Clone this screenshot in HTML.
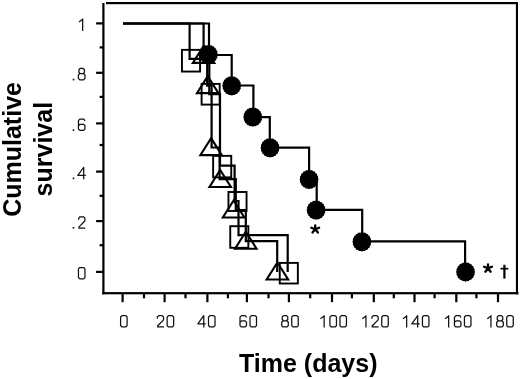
<!DOCTYPE html><html><head><meta charset="utf-8"><style>html,body{margin:0;padding:0;background:#fff;}svg{display:block;will-change:transform;}text{font-family:"Liberation Sans",sans-serif;}</style></head><body>
<svg width="520" height="379" viewBox="0 0 520 379">
<rect width="520" height="379" fill="#fff"/>
<g fill="#000">
<rect x="102.3" y="3" width="2.2" height="291.3"/>
<rect x="106" y="2" width="412" height="2.2"/>
<rect x="515.9" y="2" width="2.1" height="292.3"/>
<rect x="102.3" y="292.1" width="416.2" height="2.2"/>
<rect x="96.1" y="22.30" width="7" height="2.2"/>
<rect x="96.1" y="71.70" width="7" height="2.2"/>
<rect x="96.1" y="122.30" width="7" height="2.2"/>
<rect x="96.1" y="170.50" width="7" height="2.2"/>
<rect x="96.1" y="220.00" width="7" height="2.2"/>
<rect x="96.1" y="270.80" width="7" height="2.2"/>
<rect x="99.6" y="46.30" width="3.5" height="2.2"/>
<rect x="99.6" y="95.80" width="3.5" height="2.2"/>
<rect x="99.6" y="143.90" width="3.5" height="2.2"/>
<rect x="99.6" y="194.70" width="3.5" height="2.2"/>
<rect x="99.6" y="244.10" width="3.5" height="2.2"/>
<rect x="121.50" y="294" width="2.2" height="8.2"/>
<rect x="163.50" y="294" width="2.2" height="8.2"/>
<rect x="206.30" y="294" width="2.2" height="8.2"/>
<rect x="245.80" y="294" width="2.2" height="8.2"/>
<rect x="287.80" y="294" width="2.2" height="8.2"/>
<rect x="330.90" y="294" width="2.2" height="8.2"/>
<rect x="372.70" y="294" width="2.2" height="8.2"/>
<rect x="413.40" y="294" width="2.2" height="8.2"/>
<rect x="455.20" y="294" width="2.2" height="8.2"/>
<rect x="496.90" y="294" width="2.2" height="8.2"/>
<rect x="142.90" y="294" width="2.2" height="4.3"/>
<rect x="184.40" y="294" width="2.2" height="4.3"/>
<rect x="226.80" y="294" width="2.2" height="4.3"/>
<rect x="267.40" y="294" width="2.2" height="4.3"/>
<rect x="309.10" y="294" width="2.2" height="4.3"/>
<rect x="350.80" y="294" width="2.2" height="4.3"/>
<rect x="392.70" y="294" width="2.2" height="4.3"/>
<rect x="433.50" y="294" width="2.2" height="4.3"/>
<rect x="475.30" y="294" width="2.2" height="4.3"/>
</g>
<g fill="none" stroke="#111" stroke-width="1.25" stroke-linejoin="round">
<path transform="translate(123.85 315.00)" d="M-1.9 0.65H1.9L3.25 2V10.6L1.9 11.95H-1.9L-3.25 10.6V2Z"/>
<path transform="translate(160.40 315.00)" d="M-3.05 3.7V2.0L-1.7 0.65H1.8L3.15 2.0V4.9L-3.15 11.3M-3.4 11.95H3.6"/><path transform="translate(170.40 315.00)" d="M-1.9 0.65H1.9L3.25 2V10.6L1.9 11.95H-1.9L-3.25 10.6V2Z"/>
<path transform="translate(201.75 315.00)" d="M2.0 12.6V0.65L-3.9 8.8H4.0"/><path transform="translate(211.75 315.00)" d="M-1.9 0.65H1.9L3.25 2V10.6L1.9 11.95H-1.9L-3.25 10.6V2Z"/>
<path transform="translate(243.25 315.00)" d="M3.2 2.5L2.5 1.0L1.7 0.65H-1.7L-3.25 2.2V10.6L-1.9 11.95H1.9L3.25 10.6V7.2L1.9 5.85H-1.6L-3.25 7.3"/><path transform="translate(253.25 315.00)" d="M-1.9 0.65H1.9L3.25 2V10.6L1.9 11.95H-1.9L-3.25 10.6V2Z"/>
<path transform="translate(285.00 315.00)" d="M-1.5 0.65H1.5L2.75 1.9V4.5L1.5 5.8H-1.5L-2.75 4.5V1.9ZM-1.9 5.8H1.9L3.3 7.2V10.6L1.9 11.95H-1.9L-3.3 10.6V7.2Z"/><path transform="translate(295.00 315.00)" d="M-1.9 0.65H1.9L3.25 2V10.6L1.9 11.95H-1.9L-3.25 10.6V2Z"/>
<path transform="translate(323.20 315.00)" d="M0.95 12.6V0.2M1.0 0.9L-2.7 3.7"/><path transform="translate(333.20 315.00)" d="M-1.9 0.65H1.9L3.25 2V10.6L1.9 11.95H-1.9L-3.25 10.6V2Z"/><path transform="translate(343.20 315.00)" d="M-1.9 0.65H1.9L3.25 2V10.6L1.9 11.95H-1.9L-3.25 10.6V2Z"/>
<path transform="translate(365.00 315.00)" d="M0.95 12.6V0.2M1.0 0.9L-2.7 3.7"/><path transform="translate(375.00 315.00)" d="M-3.05 3.7V2.0L-1.7 0.65H1.8L3.15 2.0V4.9L-3.15 11.3M-3.4 11.95H3.6"/><path transform="translate(385.00 315.00)" d="M-1.9 0.65H1.9L3.25 2V10.6L1.9 11.95H-1.9L-3.25 10.6V2Z"/>
<path transform="translate(405.70 315.00)" d="M0.95 12.6V0.2M1.0 0.9L-2.7 3.7"/><path transform="translate(415.70 315.00)" d="M2.0 12.6V0.65L-3.9 8.8H4.0"/><path transform="translate(425.70 315.00)" d="M-1.9 0.65H1.9L3.25 2V10.6L1.9 11.95H-1.9L-3.25 10.6V2Z"/>
<path transform="translate(447.70 315.00)" d="M0.95 12.6V0.2M1.0 0.9L-2.7 3.7"/><path transform="translate(457.70 315.00)" d="M3.2 2.5L2.5 1.0L1.7 0.65H-1.7L-3.25 2.2V10.6L-1.9 11.95H1.9L3.25 10.6V7.2L1.9 5.85H-1.6L-3.25 7.3"/><path transform="translate(467.70 315.00)" d="M-1.9 0.65H1.9L3.25 2V10.6L1.9 11.95H-1.9L-3.25 10.6V2Z"/>
<path transform="translate(490.00 315.00)" d="M0.95 12.6V0.2M1.0 0.9L-2.7 3.7"/><path transform="translate(500.00 315.00)" d="M-1.5 0.65H1.5L2.75 1.9V4.5L1.5 5.8H-1.5L-2.75 4.5V1.9ZM-1.9 5.8H1.9L3.3 7.2V10.6L1.9 11.95H-1.9L-3.3 10.6V7.2Z"/><path transform="translate(510.00 315.00)" d="M-1.9 0.65H1.9L3.25 2V10.6L1.9 11.95H-1.9L-3.25 10.6V2Z"/>
<path transform="translate(81.70 18.40)" d="M0.95 12.6V0.2M1.0 0.9L-2.7 3.7"/>
<rect x="72.70" y="78.70" width="1.6" height="1.7" fill="#111" stroke="none"/><path transform="translate(81.70 67.80)" d="M-1.5 0.65H1.5L2.75 1.9V4.5L1.5 5.8H-1.5L-2.75 4.5V1.9ZM-1.9 5.8H1.9L3.3 7.2V10.6L1.9 11.95H-1.9L-3.3 10.6V7.2Z"/>
<rect x="72.70" y="129.30" width="1.6" height="1.7" fill="#111" stroke="none"/><path transform="translate(81.70 118.40)" d="M3.2 2.5L2.5 1.0L1.7 0.65H-1.7L-3.25 2.2V10.6L-1.9 11.95H1.9L3.25 10.6V7.2L1.9 5.85H-1.6L-3.25 7.3"/>
<rect x="72.70" y="177.50" width="1.6" height="1.7" fill="#111" stroke="none"/><path transform="translate(81.70 166.60)" d="M2.0 12.6V0.65L-3.9 8.8H4.0"/>
<rect x="72.70" y="227.00" width="1.6" height="1.7" fill="#111" stroke="none"/><path transform="translate(81.70 216.10)" d="M-3.05 3.7V2.0L-1.7 0.65H1.8L3.15 2.0V4.9L-3.15 11.3M-3.4 11.95H3.6"/>
<path transform="translate(81.70 266.90)" d="M-1.9 0.65H1.9L3.25 2V10.6L1.9 11.95H-1.9L-3.25 10.6V2Z"/>
</g>
<text x="239" y="372.2" font-size="25" font-weight="bold">Time (days)</text>
<text transform="translate(21.1,216.8) rotate(-90)" font-size="25" font-weight="bold">Cumulative</text>
<text transform="translate(51.5,196.4) rotate(-90)" font-size="25" font-weight="bold">survival</text>
<path d="M123 23.5 H189.6 V58.9 H209.3 V94.2 H220 V165.6 H234.6 V201 H238.5 V235.2 H287.7 V272" fill="none" stroke="#000" stroke-width="2.2" stroke-linejoin="miter"/>
<path d="M123 23.5 H203.6 V54.6 H207.2 V85.6 H211.6 V147.5 H219.6 V179.2 H235.8 V210 H245.8 V241.2 H277.2 V272" fill="none" stroke="#000" stroke-width="2.2" stroke-linejoin="miter"/>
<path d="M123 23.5 H209 V55 H231.7 V85.5 H253.4 V117.2 H269.8 V147.6 H309.1 V179 H316.7 V209.9 H362.2 V241.3 H465.1 V272" fill="none" stroke="#000" stroke-width="2.2" stroke-linejoin="miter"/>
<rect x="181.95" y="49.85" width="18.10" height="21.70" fill="none" stroke="#000" stroke-width="1.9"/>
<rect x="201.60" y="83.90" width="18.10" height="20.70" fill="none" stroke="#000" stroke-width="1.9"/>
<rect x="213.15" y="155.85" width="18.10" height="21.50" fill="none" stroke="#000" stroke-width="1.9"/>
<rect x="228.45" y="192.00" width="18.10" height="19.00" fill="none" stroke="#000" stroke-width="1.9"/>
<rect x="230.25" y="226.20" width="18.10" height="21.60" fill="none" stroke="#000" stroke-width="1.9"/>
<rect x="279.75" y="262.90" width="18.10" height="20.60" fill="none" stroke="#000" stroke-width="1.9"/>
<path d="M203.60 45.90 L214.35 62.90 L192.85 62.90 Z" fill="none" stroke="#000" stroke-width="2.1" stroke-linejoin="miter"/>
<path d="M207.70 76.10 L218.45 93.10 L196.95 93.10 Z" fill="none" stroke="#000" stroke-width="2.1" stroke-linejoin="miter"/>
<path d="M211.10 138.10 L221.85 155.10 L200.35 155.10 Z" fill="none" stroke="#000" stroke-width="2.1" stroke-linejoin="miter"/>
<path d="M220.20 170.00 L230.95 187.00 L209.45 187.00 Z" fill="none" stroke="#000" stroke-width="2.1" stroke-linejoin="miter"/>
<path d="M233.60 200.50 L244.35 217.50 L222.85 217.50 Z" fill="none" stroke="#000" stroke-width="2.1" stroke-linejoin="miter"/>
<path d="M245.80 231.70 L256.55 248.70 L235.05 248.70 Z" fill="none" stroke="#000" stroke-width="2.1" stroke-linejoin="miter"/>
<path d="M277.40 262.50 L288.15 279.50 L266.65 279.50 Z" fill="none" stroke="#000" stroke-width="2.1" stroke-linejoin="miter"/>
<polygon points="217.95,54.50 217.31,55.94 217.48,57.51 216.44,58.68 216.13,60.23 214.78,61.02 214.01,62.39 212.50,62.71 211.35,63.77 209.81,63.60 208.40,64.25 206.99,63.60 205.45,63.77 204.30,62.71 202.79,62.39 202.02,61.02 200.67,60.23 200.36,58.68 199.32,57.51 199.49,55.94 198.85,54.50 199.49,53.06 199.32,51.49 200.36,50.32 200.67,48.77 202.02,47.98 202.79,46.61 204.30,46.29 205.45,45.23 206.99,45.40 208.40,44.75 209.81,45.40 211.35,45.23 212.50,46.29 214.01,46.61 214.78,47.98 216.13,48.77 216.44,50.32 217.48,51.49 217.31,53.06" fill="#000"/>
<polygon points="241.25,85.80 240.61,87.24 240.78,88.81 239.74,89.98 239.43,91.53 238.08,92.32 237.31,93.69 235.80,94.01 234.65,95.07 233.11,94.90 231.70,95.55 230.29,94.90 228.75,95.07 227.60,94.01 226.09,93.69 225.32,92.32 223.97,91.53 223.66,89.98 222.62,88.81 222.79,87.24 222.15,85.80 222.79,84.36 222.62,82.79 223.66,81.62 223.97,80.07 225.32,79.28 226.09,77.91 227.60,77.59 228.75,76.53 230.29,76.70 231.70,76.05 233.11,76.70 234.65,76.53 235.80,77.59 237.31,77.91 238.08,79.28 239.43,80.07 239.74,81.62 240.78,82.79 240.61,84.36" fill="#000"/>
<polygon points="262.35,117.00 261.71,118.44 261.88,120.01 260.84,121.18 260.53,122.73 259.18,123.52 258.41,124.89 256.90,125.21 255.75,126.27 254.21,126.10 252.80,126.75 251.39,126.10 249.85,126.27 248.70,125.21 247.19,124.89 246.42,123.52 245.07,122.73 244.76,121.18 243.72,120.01 243.89,118.44 243.25,117.00 243.89,115.56 243.72,113.99 244.76,112.82 245.07,111.27 246.42,110.48 247.19,109.11 248.70,108.79 249.85,107.73 251.39,107.90 252.80,107.25 254.21,107.90 255.75,107.73 256.90,108.79 258.41,109.11 259.18,110.48 260.53,111.27 260.84,112.82 261.88,113.99 261.71,115.56" fill="#000"/>
<polygon points="279.60,147.80 278.96,149.24 279.13,150.81 278.09,151.98 277.78,153.53 276.43,154.32 275.66,155.69 274.15,156.01 273.00,157.07 271.46,156.90 270.05,157.55 268.64,156.90 267.10,157.07 265.95,156.01 264.44,155.69 263.67,154.32 262.32,153.53 262.01,151.98 260.97,150.81 261.14,149.24 260.50,147.80 261.14,146.36 260.97,144.79 262.01,143.62 262.32,142.07 263.67,141.28 264.44,139.91 265.95,139.59 267.10,138.53 268.64,138.70 270.05,138.05 271.46,138.70 273.00,138.53 274.15,139.59 275.66,139.91 276.43,141.28 277.78,142.07 278.09,143.62 279.13,144.79 278.96,146.36" fill="#000"/>
<polygon points="318.65,179.40 318.01,180.84 318.18,182.41 317.14,183.58 316.83,185.13 315.48,185.92 314.71,187.29 313.20,187.61 312.05,188.67 310.51,188.50 309.10,189.15 307.69,188.50 306.15,188.67 305.00,187.61 303.49,187.29 302.72,185.92 301.37,185.13 301.06,183.58 300.02,182.41 300.19,180.84 299.55,179.40 300.19,177.96 300.02,176.39 301.06,175.22 301.37,173.67 302.72,172.88 303.49,171.51 305.00,171.19 306.15,170.13 307.69,170.30 309.10,169.65 310.51,170.30 312.05,170.13 313.20,171.19 314.71,171.51 315.48,172.88 316.83,173.67 317.14,175.22 318.18,176.39 318.01,177.96" fill="#000"/>
<polygon points="325.65,210.10 325.01,211.54 325.18,213.11 324.14,214.28 323.83,215.83 322.48,216.62 321.71,217.99 320.20,218.31 319.05,219.37 317.51,219.20 316.10,219.85 314.69,219.20 313.15,219.37 312.00,218.31 310.49,217.99 309.72,216.62 308.37,215.83 308.06,214.28 307.02,213.11 307.19,211.54 306.55,210.10 307.19,208.66 307.02,207.09 308.06,205.92 308.37,204.37 309.72,203.58 310.49,202.21 312.00,201.89 313.15,200.83 314.69,201.00 316.10,200.35 317.51,201.00 319.05,200.83 320.20,201.89 321.71,202.21 322.48,203.58 323.83,204.37 324.14,205.92 325.18,207.09 325.01,208.66" fill="#000"/>
<polygon points="371.45,241.80 370.81,243.24 370.98,244.81 369.94,245.98 369.63,247.53 368.28,248.32 367.51,249.69 366.00,250.01 364.85,251.07 363.31,250.90 361.90,251.55 360.49,250.90 358.95,251.07 357.80,250.01 356.29,249.69 355.52,248.32 354.17,247.53 353.86,245.98 352.82,244.81 352.99,243.24 352.35,241.80 352.99,240.36 352.82,238.79 353.86,237.62 354.17,236.07 355.52,235.28 356.29,233.91 357.80,233.59 358.95,232.53 360.49,232.70 361.90,232.05 363.31,232.70 364.85,232.53 366.00,233.59 367.51,233.91 368.28,235.28 369.63,236.07 369.94,237.62 370.98,238.79 370.81,240.36" fill="#000"/>
<polygon points="475.10,271.90 474.46,273.34 474.63,274.91 473.59,276.08 473.28,277.63 471.93,278.42 471.16,279.79 469.65,280.11 468.50,281.17 466.96,281.00 465.55,281.65 464.14,281.00 462.60,281.17 461.45,280.11 459.94,279.79 459.17,278.42 457.82,277.63 457.51,276.08 456.47,274.91 456.64,273.34 456.00,271.90 456.64,270.46 456.47,268.89 457.51,267.72 457.82,266.17 459.17,265.38 459.94,264.01 461.45,263.69 462.60,262.63 464.14,262.80 465.55,262.15 466.96,262.80 468.50,262.63 469.65,263.69 471.16,264.01 471.93,265.38 473.28,266.17 473.59,267.72 474.63,268.89 474.46,270.46" fill="#000"/>
<path d="M315.20 229.30l0 -4.0M315.20 229.30l-3.9 -1.6M315.20 229.30l3.9 -1.6M315.20 229.30l-2.7 3.3M315.20 229.30l2.7 3.3" stroke="#000" stroke-width="2.3" stroke-linecap="round" fill="none"/>
<path d="M488.00 268.40l0 -4.0M488.00 268.40l-3.9 -1.6M488.00 268.40l3.9 -1.6M488.00 268.40l-2.7 3.3M488.00 268.40l2.7 3.3" stroke="#000" stroke-width="2.3" stroke-linecap="round" fill="none"/>
<rect x="503.3" y="264.8" width="2.2" height="13.8" fill="#000"/>
<rect x="500.5" y="267.8" width="7.8" height="1.7" fill="#000"/>
</svg></body></html>
